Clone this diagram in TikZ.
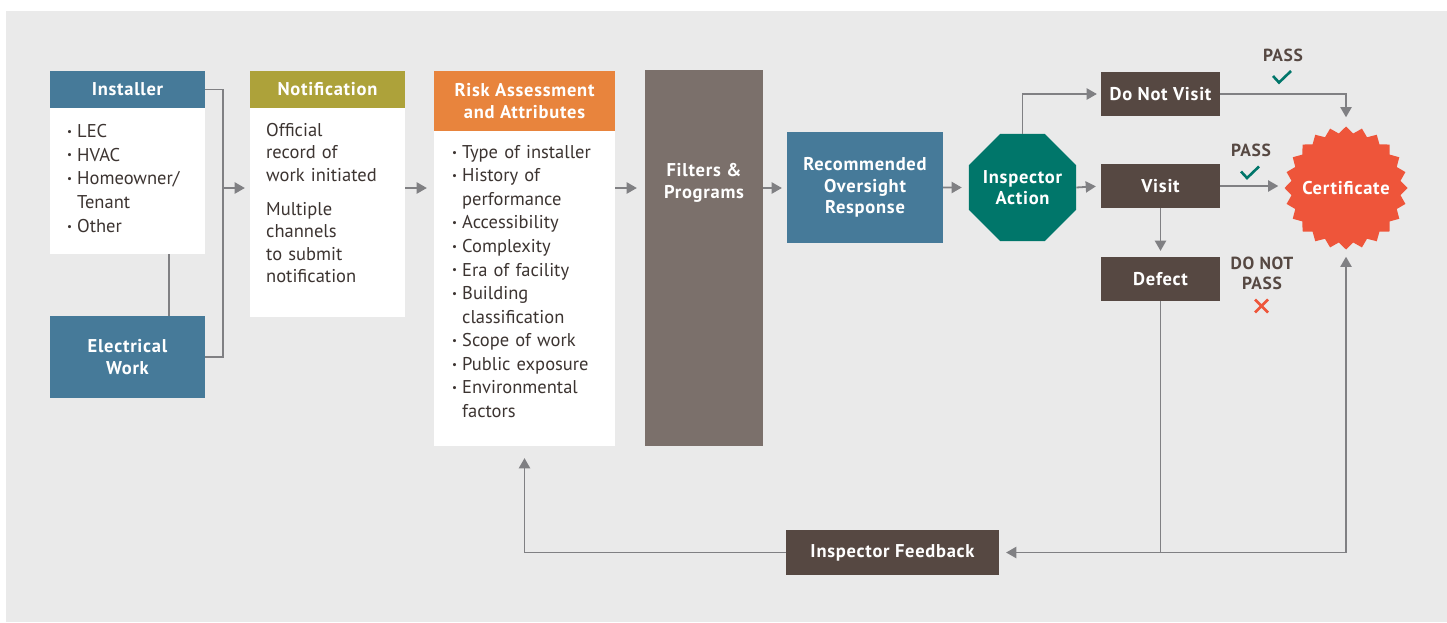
\documentclass[tikz,border=0pt]{standalone}
\usepackage{fontspec}
\setmainfont{PT Sans}
\newfontfamily\headfont[LetterSpace=4]{PT Sans}
\usetikzlibrary{arrows,shapes.geometric}
\definecolor{bggray}{HTML}{EAEAEA}
\definecolor{steel}{HTML}{467A99}
\definecolor{olive}{HTML}{ADA23A}
\definecolor{carrot}{HTML}{E8843D}
\definecolor{taupe}{HTML}{7B706B}
\definecolor{umber}{HTML}{564842}
\definecolor{pine}{HTML}{00766A}
\definecolor{flame}{HTML}{EE553A}
\definecolor{wire}{HTML}{808083}
\definecolor{ink}{HTML}{3C3431}
\tikzstyle{flow} = [draw=wire,line width=1.8pt,-triangle 60]
\tikzstyle{wirel} = [draw=wire,line width=1.8pt]
\tikzstyle{box} = [rectangle,inner sep=0pt,text=white,align=center,font=\headfont\bfseries\fontsize{18.5}{21.5}\selectfont]
\tikzstyle{panel} = [rectangle,inner sep=0pt,fill=white]
\tikzstyle{listtext} = [anchor=north west,inner sep=0pt,align=left,text=ink]
\tikzstyle{verdict} = [inner sep=0pt,text=umber,align=center,font=\headfont\bfseries\fontsize{17.5}{20}\selectfont]
\tikzstyle{tickline} = [line width=2.6pt,line join=miter]
\newcommand{\itm}{\makebox[10pt][l]{\raisebox{0.12em}{\fontsize{11}{11}\selectfont\textbullet}}}
\newcommand{\ind}{\hspace*{10pt}}
\newcommand{\nowidth}[1]{\makebox[0pt]{#1}}

\begin{document}
\begin{tikzpicture}[yscale=-1]
			\useasboundingbox (0pt,0pt) rectangle (1447pt,622pt);
			\fill[bggray] (6pt,11pt) rectangle (1447pt,622pt);
			\coordinate (axis) at (0pt,188pt);
			% installer column
			\node[box,fill=steel,minimum width=155pt,minimum height=37pt] (instHead) at (127.5pt,89.5pt) {Installer};
			\node[panel,minimum width=155pt,minimum height=146pt] (instBody) at (127.5pt,181pt) {};
			\node[listtext,text width=135pt,font=\fontsize{18.5}{23.8}\selectfont] (instList) at (67pt,124pt) {\itm LEC\\ \itm HVAC\\ \itm Homeowner/\\ \ind Tenant\\ \itm Other};
			\node[box,fill=steel,minimum width=155pt,minimum height=82pt] (elec) at (127.5pt,357pt) {Electrical\\Work};
			\coordinate (tie) at (169pt,254pt);
			\coordinate (join) at (223pt,188pt);
			% notification
			\node[box,fill=olive,minimum width=155pt,minimum height=37pt] (notifHead) at (327.5pt,89.5pt) {Notification};
			\node[panel,minimum width=155pt,minimum height=209pt] (notifBody) at (327.5pt,212.5pt) {};
			\node[listtext,text width=135pt,font=\fontsize{18.5}{22.4}\selectfont] (notifText) at (266pt,123pt) {Official\\ record of\\ work initiated\\[12pt] Multiple\\ channels\\ to submit\\ notification};
			% risk assessment
			\node[box,fill=carrot,minimum width=181pt,minimum height=60pt] (riskHead) at (524.5pt,101pt) {Risk Assessment\\and Attributes};
			\node[panel,minimum width=181pt,minimum height=315pt] (riskBody) at (524.5pt,288.5pt) {};
			\node[listtext,text width=160pt,font=\fontsize{18.5}{23.55}\selectfont] (riskList) at (452pt,145pt) {\itm Type of installer\\ \itm History of\\ \ind performance\\ \itm Accessibility\\ \itm Complexity\\ \itm Era of facility\\ \itm Building\\ \ind classification\\ \itm Scope of work\\ \itm Public exposure\\ \itm Environmental\\ \ind factors};
			% filters and response
			\node[box,fill=taupe,minimum width=118pt,minimum height=376pt] (filters) at (704pt,258pt) {};
			\node[box] (filtersText) at (704pt,183pt) {Filters \&\\Programs};
			\node[box,fill=steel,minimum width=156pt,minimum height=111pt] (recommend) at (865pt,187.5pt) {Recommended\\Oversight\\Response};
			\node[box,fill=pine,regular polygon,regular polygon sides=8,minimum size=116pt] (inspect) at (1022.5pt,187.5pt) {\nowidth{Inspector}\\\nowidth{Action}};
			% outcomes
			\node[box,fill=umber,minimum width=119pt,minimum height=44pt] (noVisit) at (1160.5pt,94pt) {Do Not Visit};
			\node[box,fill=umber,minimum width=119pt,minimum height=44pt] (visit) at (1160.5pt,186pt) {Visit};
			\node[box,fill=umber,minimum width=119pt,minimum height=44pt] (defect) at (1160.5pt,279pt) {Defect};
			\node[box,fill=flame,star,star points=24,star point ratio=1.12,minimum size=123pt] (cert) at (1346pt,188pt) {\nowidth{Certificate}};
			\node[box,fill=umber,minimum width=213pt,minimum height=45pt] (feedback) at (892.5pt,552.5pt) {Inspector Feedback};
			% verdicts
			\node[verdict] (passTop) at (1283pt,55pt) {PASS};
			\node[verdict] (passMid) at (1251pt,150pt) {PASS};
			\node[verdict] (failText) at (1262pt,273pt) {DO NOT\\PASS};
			\coordinate (tickTop) at (1282pt,77pt);
			\coordinate (tickMid) at (1250pt,172.5pt);
			\coordinate (failMark) at (1261.5pt,306pt);
			\draw[tickline,pine,shift={(tickTop)}] (-9pt,-1pt) -- (-3pt,5.5pt) -- (9pt,-6pt);
			\draw[tickline,pine,shift={(tickMid)}] (-9pt,-1pt) -- (-3pt,5.5pt) -- (9pt,-6pt);
			\draw[tickline,flame,shift={(failMark)}] (-6.5pt,-6.5pt) -- (6.5pt,6.5pt) (-6.5pt,6.5pt) -- (6.5pt,-6.5pt);
			% connectors
			\draw[wirel] (instHead.east) -| (join) |- (elec.east);
			\draw[wirel] (tie) -- (tie |- elec.north);
			\draw[flow,shorten >=5pt] (join) -- (notifBody.west |- axis);
			\draw[flow,shorten >=7pt] (notifBody.east |- axis) -- (riskBody.west |- axis);
			\draw[flow,shorten >=8pt] (riskBody.east |- axis) -- (filters.west |- axis);
			\draw[flow,shorten >=5pt] (filters.east |- axis) -- (recommend.west |- axis);
			\draw[flow,shorten >=7pt] (recommend.east) -- (inspect.west);
			\draw[flow,shorten >=5pt] (inspect.east) -- (visit.west);
			\draw[flow,shorten >=4pt] (inspect.north) |- (noVisit.west);
			\draw[flow,shorten >=9pt] (noVisit.east) -| (cert.north);
			\draw[flow,shorten >=6pt] (visit.east) -- (visit.east -| cert.west);
			\draw[flow,shorten >=6pt] (visit.south) -- (defect.north);
			\draw[flow,shorten >=7pt] (defect.south) |- (feedback.east);
			\draw[flow,shorten >=7pt] (defect.south |- feedback.east) -| (cert.south);
			\draw[flow,shorten >=12pt] (feedback.west) -| (riskBody.south);
		\end{tikzpicture}
\end{document}
